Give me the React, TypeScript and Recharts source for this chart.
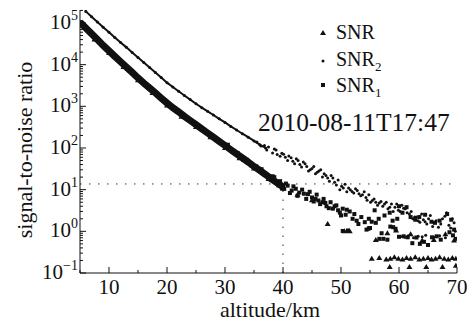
import {
  ScatterChart,
  Scatter,
  XAxis,
  YAxis,
  ReferenceLine,
} from "recharts";

// altitude (km) and signal-to-noise ratio
const snr1Alt = [5, 6, 7, 8, 9, 10, 11, 12, 13, 14, 15, 16, 17, 18, 19, 20, 21, 22, 23, 24, 25, 26, 27, 28, 29, 30, 31, 32, 33, 34, 35, 36, 37, 38, 39, 40];
const snr1Val = [1.05e5, 7.6e4, 5.5e4, 4.0e4, 2.9e4, 2.14e4, 1.58e4, 1.17e4, 8.7e3, 6.5e3, 4.8e3, 3.6e3, 2.75e3, 2.1e3, 1.58e3, 1.2e3, 930, 740, 575, 457, 363, 288, 229, 182, 145, 115, 91, 72, 58, 46, 36, 29, 23, 18, 14.5, 11.7];

const snr1NoiseAlt = [
  30.5, 31.3, 32.2, 33.1, 33.8, 34.6, 35.4, 36.3, 36.8, 37.4, 37.9, 38.2, 38.8, 39.5, 39.8, 40.2, 40.8, 41.5, 42.2, 42.8,
  43.6, 44.3, 45.0, 45.6, 46.1, 46.8, 47.3, 47.9, 48.9, 49.5, 50.0, 51.0, 52.3, 53.0, 54.8, 56.0, 57.5, 59.7, 60.6, 62.8,
  64.5, 66.2, 69.0,
  38.5, 39.2, 40.5, 41.2, 41.8, 42.5, 43.3, 44.0, 44.6, 45.3, 45.8, 46.4, 47.0, 47.5, 48.2, 48.6, 49.2, 49.8, 50.3, 50.8,
  51.5, 52.0, 52.7, 53.5, 54.1, 55.3, 55.8, 56.5, 58.4, 58.9, 59.0, 60.0, 61.3, 62.0, 63.5, 65.6, 67.0, 68.3, 69.5, 50.3,
  51.2, 54.4, 55.0, 58.5, 59.4, 57.0, 56.6, 57.3, 58.0, 60.0, 60.8, 61.5, 62.3, 63.0, 63.6, 64.3, 65.0, 65.7, 66.5, 67.2,
  68.7, 69.3, 69.8,
];
const snr1NoiseVal = [
  120, 80, 75, 52, 52, 38, 36, 31, 24, 22, 17, 21, 15, 16, 11, 10.5, 12.5, 9.5, 10.5, 8.5,
  8.0, 7.8, 6.5, 6.0, 5.5, 5.0, 4.8, 3.6, 4.0, 3.2, 2.4, 3.3, 2.6, 1.5, 2.0, 1.6, 2.4, 2.0, 2.8, 1.9,
  2.5, 1.6, 1.9,
  20, 12.6, 14, 8.3, 12, 7.1, 10, 6.0, 8.9, 5.2, 7.6, 4.5, 6.0, 4.0, 5.0, 3.5, 4.2, 2.8, 3.5, 2.5,
  3.0, 2.0, 1.8, 2.2, 1.66, 1.7, 3.2, 2.0, 2.8, 1.8, 1.26, 4.0, 3.8, 2.2, 2.2, 1.7, 1.8, 2.6, 1.1, 1.02,
  1.05, 1.1, 1.2, 1.3, 1.15, 0.9, 0.66, 0.66, 0.63, 0.74, 0.76, 0.72, 0.52, 0.71, 0.5, 0.56, 0.47, 0.72, 0.76, 0.63,
  0.95, 0.8, 0.66,
];

const snr2Alt = [6, 7, 8, 9, 10, 11, 12, 13, 14, 15, 16, 17, 18, 19, 20, 21, 22, 23, 24, 25, 26, 27, 28, 29, 30, 31, 32, 33, 34, 35, 36, 37];
const snr2Val = [1.9e5, 1.41e5, 1.05e5, 7.9e4, 6.0e4, 4.5e4, 3.4e4, 2.6e4, 1.95e4, 1.48e4, 1.12e4, 8.5e3, 6.5e3, 4.9e3, 3.7e3, 2.9e3, 2.3e3, 1.82e3, 1.45e3, 1.15e3, 930, 760, 620, 500, 410, 330, 270, 220, 182, 148, 120, 100];

const snr2NoiseAlt = [
  35.5, 36.2, 36.8, 37.2, 38.5, 39.0, 39.8, 40.4, 41.0, 41.7, 42.3, 42.9, 43.5, 44.1, 44.7, 45.3, 45.9, 46.5, 47.1, 47.7,
  48.3, 48.9, 49.5, 50.1, 50.7, 51.3, 51.9, 52.5, 53.1, 53.7, 54.3, 54.8, 55.4, 56.0, 56.6, 57.2, 57.8, 58.4, 59.0, 59.6,
  60.2, 60.8, 61.4, 62.1, 62.7, 63.3, 63.9, 64.5, 65.1, 65.8, 66.4, 67.2, 67.9, 68.9, 69.5,
  37.5, 38.2, 38.8, 39.5, 40.1, 40.8, 41.4, 42.0, 42.6, 43.2, 43.8, 44.4, 45.0, 45.6, 46.2, 46.8, 47.4, 48.0, 48.6, 49.2,
  49.8, 50.4, 51.0, 51.6, 52.2, 52.8, 53.4, 54.0, 54.5, 55.1, 55.7, 56.3, 56.9, 57.5, 58.1, 58.7, 59.3, 59.9, 60.5, 61.1,
  61.8, 62.4, 63.0, 63.6, 64.2, 64.8, 65.4, 66.0, 66.8, 67.5, 68.2, 68.6, 69.2, 69.7, 60.3, 61.0, 61.6, 62.5, 63.3, 64.0,
  64.6, 66.0, 67.0, 68.0,
];
const snr2NoiseVal = [
  140, 112, 115, 90, 95, 70, 75, 60, 64, 48, 55, 40, 46, 36, 30, 36, 26, 30, 24, 19,
  22, 15, 17, 12, 13.5, 11, 9.0, 10.5, 8.0, 7.5, 6.5, 7.5, 5.5, 5.0, 4.8, 4.0, 5.0, 3.8, 3.0, 4.5,
  3.0, 3.6, 2.8, 3.0, 2.2, 1.8, 2.6, 1.7, 2.0, 1.3, 1.8, 1.5, 2.3, 1.2, 1.6,
  105, 76, 89, 63, 71, 50, 58, 42, 50, 35, 42, 28, 32, 24, 28, 20, 22, 16, 19, 13,
  10, 11, 8.9, 10, 8.3, 9.5, 7.1, 8.9, 5.6, 5.0, 6.0, 4.2, 5.2, 4.5, 3.5, 4.5, 3.8, 3.2, 4.2, 3.5,
  2.6, 2.0, 2.2, 1.66, 1.9, 1.5, 2.4, 1.6, 1.26, 2.0, 2.8, 1.4, 2.0, 1.0, 0.75, 0.72, 0.78, 0.7, 0.76, 0.74,
  0.8, 0.72, 0.78, 0.7,
];

const snrAlt = [5, 7.5, 10, 12.5, 15, 17.5, 20, 22.5, 25, 27.5, 30, 32.5, 35, 37.5, 40, 42.5, 45, 47.7, 50.6, 51.5, 54.6, 56.0, 58.0, 59.5, 62.0, 64.0, 66.0, 68.0, 69.5, 55.3, 56.6, 57.8, 58.5, 59.2, 59.9, 60.6, 61.3, 62.0, 62.8, 63.5, 64.2, 65.0, 65.6, 66.3, 67.0, 67.8, 68.5, 69.2, 69.8, 58.4, 61.8, 64.7, 67.5, 69.8];
const snrVal = [9.2e4, 4.0e4, 1.9e4, 8.8e3, 4.2e3, 2.1e3, 1.05e3, 560, 320, 180, 100, 57, 32, 18, 10.5, 7.6, 5.6, 1.5, 1.0, 1.0, 1.15, 0.62, 0.9, 1.05, 0.85, 0.6, 0.62, 0.85, 0.6, 0.22, 0.23, 0.21, 0.22, 0.24, 0.22, 0.21, 0.23, 0.22, 0.24, 0.21, 0.22, 0.23, 0.21, 0.22, 0.24, 0.22, 0.21, 0.23, 0.22, 0.14, 0.14, 0.14, 0.14, 0.15];

const xTicks = [5, 10, 15, 20, 25, 30, 35, 40, 45, 50, 55, 60, 65, 70];
const thresholdSnr = 13.7;
const thresholdAlt = 40;
const timeStamp = "2010-08-11T17:47";

const toPoints = (alts: number[], vals: number[]) =>
  alts.map((a, i) => ({ alt: a, snr: vals[i] }));

// log ticks: 1..9 x 10^e, plus 2e5 at the top edge
const yTicks: number[] = [];
for (let e = -1; e <= 5; e++) {
  for (let m = 1; m <= 9; m++) {
    const v = e < 0 ? m / Math.pow(10, -e) : m * Math.pow(10, e);
    if (v <= 2.05e5) yTicks.push(v);
  }
}

const FONT = "'Liberation Serif', 'DejaVu Serif', serif";
const INK = "#111";

const isPow10 = (v: number) => {
  const e = Math.round(Math.log10(v));
  return Math.abs(v / Math.pow(10, e) - 1) < 1e-6;
};

const LeftTick = (p: any) => {
  const { x, y, payload } = p;
  const v = payload.value;
  const major = isPow10(v);
  const e = Math.round(Math.log10(v));
  return (
    <g>
      <line x1={x} x2={x + (major ? 6 : 3)} y1={y} y2={y} stroke={INK} />
      {major && (
        <text x={x - 2} y={y + 6} textAnchor="end" fontSize={21} fontFamily={FONT} fill={INK}>
          <tspan>10</tspan>
          <tspan dy={-9} fontSize={14}>{e < 0 ? "\u2212" + -e : String(e)}</tspan>
        </text>
      )}
    </g>
  );
};

const RightTick = (p: any) => {
  const { x, y, payload } = p;
  const major = isPow10(payload.value);
  return <line x1={x} x2={x - (major ? 6 : 3)} y1={y} y2={y} stroke={INK} />;
};

const BottomTick = (p: any) => {
  const { x, y, payload } = p;
  const major = payload.value % 10 === 0;
  return (
    <g>
      <line x1={x} x2={x} y1={y} y2={y - (major ? 6 : 3)} stroke={INK} />
      {major && (
        <text x={x} y={y + 21} textAnchor="middle" fontSize={21} fontFamily={FONT} fill={INK}>
          {payload.value}
        </text>
      )}
    </g>
  );
};

const TopTick = (p: any) => {
  const { x, y, payload } = p;
  const major = payload.value % 10 === 0;
  return <line x1={x} x2={x} y1={y} y2={y + (major ? 6 : 3)} stroke={INK} />;
};

const Square = (p: any) => (
  <rect x={p.cx - 2} y={p.cy - 2} width={4} height={4} fill={INK} />
);
const Dot = (p: any) => <circle cx={p.cx} cy={p.cy} r={1.5} fill={INK} />;
const Tri = (p: any) => (
  <path d={`M${p.cx},${p.cy - 3}L${p.cx + 3},${p.cy + 2}L${p.cx - 3},${p.cy + 2}Z`} fill={INK} />
);

export default function App() {
  return (
    <div style={{ position: "absolute", left: 0, top: 0 }}>
      <ScatterChart
        width={473}
        height={326}
        margin={{ top: 10, right: 16, bottom: 0, left: 0 }}
      >
        <XAxis
          type="number"
          dataKey="alt"
          domain={[5, 70]}
          ticks={xTicks}
          interval={0}
          allowDataOverflow
          tickSize={0}
          tickMargin={0}
          tickLine={false}
          tick={<BottomTick />}
          height={53}
          stroke={INK}
        />
        <XAxis
          xAxisId="top"
          orientation="top"
          type="number"
          dataKey="alt"
          domain={[5, 70]}
          ticks={xTicks}
          interval={0}
          allowDataOverflow
          tickSize={0}
          tickMargin={0}
          tickLine={false}
          tick={<TopTick />}
          height={0}
          stroke={INK}
        />
        <YAxis
          type="number"
          dataKey="snr"
          scale="log"
          domain={[0.1, 2.05e5]}
          ticks={yTicks}
          interval={0}
          allowDataOverflow
          tickSize={0}
          tickMargin={0}
          tickLine={false}
          tick={<LeftTick />}
          width={80}
          stroke={INK}
        />
        <YAxis
          yAxisId="right"
          orientation="right"
          type="number"
          dataKey="snr"
          scale="log"
          domain={[0.1, 2.05e5]}
          ticks={yTicks}
          interval={0}
          allowDataOverflow
          tickSize={0}
          tickMargin={0}
          tickLine={false}
          tick={<RightTick />}
          width={0}
          stroke={INK}
        />

        <ReferenceLine y={thresholdSnr} stroke="#333" strokeDasharray="1.5 7.5" />
        <ReferenceLine
          segment={[
            { x: thresholdAlt, y: 0.1 },
            { x: thresholdAlt, y: thresholdSnr },
          ]}
          stroke="#333"
          strokeDasharray="1.5 7.5"
        />

        <Scatter
          data={toPoints(snr2Alt, snr2Val)}
          shape={Dot}
          line={{ stroke: INK, strokeWidth: 2 }}
          isAnimationActive={false}
        />
        <Scatter data={toPoints(snr2NoiseAlt, snr2NoiseVal)} shape={Dot} isAnimationActive={false} />
        <Scatter
          data={toPoints(snr1Alt, snr1Val)}
          shape={Square}
          line={{ stroke: INK, strokeWidth: 7 }}
          isAnimationActive={false}
        />
        <Scatter data={toPoints(snr1NoiseAlt, snr1NoiseVal)} shape={Square} isAnimationActive={false} />
        <Scatter data={toPoints(snrAlt, snrVal)} shape={Tri} isAnimationActive={false} />

        <text
          x={32}
          y={150}
          transform="rotate(-90, 32, 150)"
          textAnchor="middle"
          fontSize={22}
          fontFamily={FONT}
          fill={INK}
        >
          signal-to-noise ratio
        </text>
        <text x={270} y={317} textAnchor="middle" fontSize={22} fontFamily={FONT} fill={INK}>
          altitude/km
        </text>

        <g fontFamily={FONT} fontSize={20} fill={INK}>
          <path d="M323,30L326,35L320,35Z" fill={INK} />
          <text x={336} y={39}>SNR</text>
          <circle cx={323} cy={61} r={1.5} fill={INK} />
          <text x={336} y={66}>
            SNR<tspan fontSize={13} dy={5}>2</tspan>
          </text>
          <rect x={321} y={83} width={4} height={4} fill={INK} />
          <text x={336} y={92}>
            SNR<tspan fontSize={13} dy={5}>1</tspan>
          </text>
          <text x={258} y={131} fontSize={25.5}>{timeStamp}</text>
        </g>
      </ScatterChart>
    </div>
  );
}
